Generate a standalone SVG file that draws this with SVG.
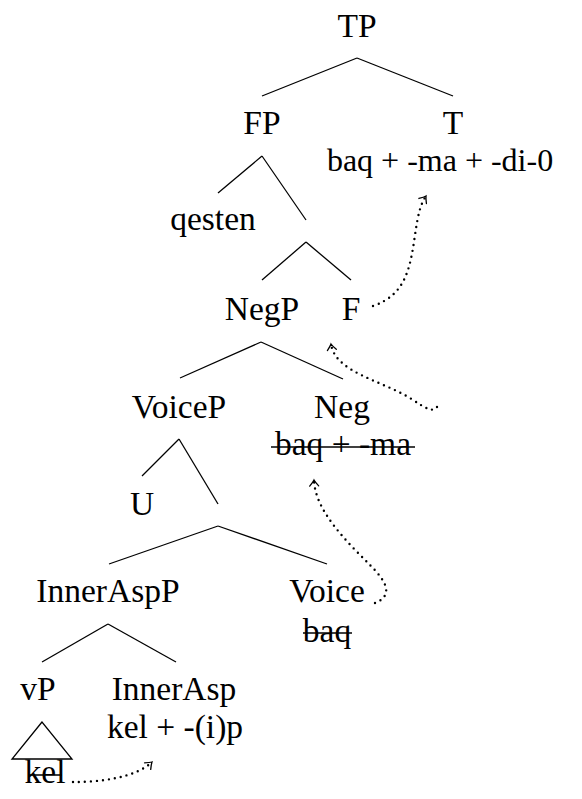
<svg xmlns="http://www.w3.org/2000/svg" width="582" height="799" viewBox="0 0 582 799">
<style>
text{font-family:"Liberation Serif","Times New Roman",serif;font-size:33.5px;fill:#000;text-anchor:middle}
text.w{font-size:32px}
.e line,.e polygon,line.s{stroke:#000;stroke-width:1.3;fill:none}
.m path{stroke:#000;stroke-width:2.4;fill:none;stroke-dasharray:0 6;stroke-linecap:round}
</style>
<defs>
<marker id="ah" markerUnits="userSpaceOnUse" markerWidth="14" markerHeight="14" refX="0" refY="0" viewBox="-8 -7 10 14" orient="auto" overflow="visible">
<path d="M-6,-4.5 Q-2,-1 0,0 Q-2,1 -6,4.5" fill="none" stroke="#000" stroke-width="1.3" stroke-linecap="round"/>
</marker>
</defs>
<g id="edges" class="e">
<line x1="357" y1="58" x2="262" y2="96"/>
<line x1="357" y1="58" x2="453" y2="96"/>
<line x1="262" y1="156" x2="218" y2="193"/>
<line x1="262" y1="156" x2="306" y2="220"/>
<line x1="306" y1="242" x2="262" y2="280"/>
<line x1="306" y1="242" x2="351" y2="280"/>
<line x1="261" y1="342" x2="180" y2="378"/>
<line x1="261" y1="342" x2="343" y2="379"/>
<line x1="179" y1="439" x2="142" y2="476"/>
<line x1="179" y1="439" x2="218" y2="504"/>
<line x1="218" y1="526" x2="109" y2="564"/>
<line x1="218" y1="526" x2="327" y2="564"/>
<line x1="108" y1="624" x2="42" y2="662"/>
<line x1="108" y1="624" x2="176" y2="662"/>
<polygon points="42,722 12,759 72,759"/>
</g>
<g id="TP"><text x="357" y="37">TP</text></g>
<g id="FP"><text x="262" y="134">FP</text></g>
<g id="T"><text x="453" y="134">T</text><text class="w" x="440" y="171">baq + -ma + -di-0</text></g>
<g id="qesten"><text x="213" y="230">qesten</text></g>
<g id="NegP"><text x="262" y="320">NegP</text></g>
<g id="F"><text x="351" y="320">F</text></g>
<g id="VoiceP"><text x="179" y="418">VoiceP</text></g>
<g id="Neg"><text x="342" y="418">Neg</text><text x="343" y="455">baq + -ma</text><line class="s" x1="271" y1="447" x2="415" y2="447"/></g>
<g id="U"><text x="142" y="515">U</text></g>
<g id="InnerAspP"><text x="108" y="602">InnerAspP</text></g>
<g id="Voice"><text x="327" y="602">Voice</text><text x="327" y="642">baq</text><line class="s" x1="303" y1="633" x2="352" y2="633"/></g>
<g id="vP"><text x="38" y="700">vP</text><text x="45" y="783">kel</text><line class="s" x1="28" y1="775" x2="62" y2="775"/></g>
<g id="InnerAsp"><text x="174" y="700">InnerAsp</text><text x="175" y="738">kel + -(i)p</text></g>
<g id="movement" class="m">
<path d="M73,782 C100,782 135,778 152,762" marker-end="url(#ah)"/>
<path d="M375,603 C395,595 385,580 370,565 C345,540 315,510 314,480" marker-end="url(#ah)"/>
<path d="M437,407 C433,413 425,408 410,398 C380,380 335,372 331,344" marker-end="url(#ah)"/>
<path d="M373,306 C405,295 410,270 415,235 C418,215 420,205 426,196" marker-end="url(#ah)"/>
</g>
</svg>
